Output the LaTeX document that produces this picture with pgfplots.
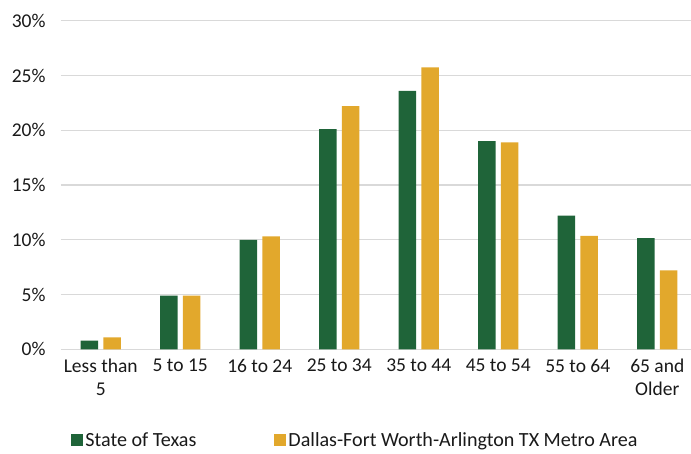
\documentclass[border=0pt]{standalone}
\usepackage{pgfplots}
\pgfplotsset{compat=1.18}
\usepackage{fontspec}
\setmainfont{Carlito}
\definecolor{tgreen}{HTML}{1F6439}
\definecolor{tgold}{HTML}{E2A82C}
\definecolor{gridgray}{HTML}{D9D9D9}
\begin{document}
\begin{tikzpicture}
\begin{axis}[
  name=ax,
  scale only axis,
  width=636pt, height=328.6pt,
  xmin=-0.5, xmax=7.5, ymin=0, ymax=30,
  clip=false,
  ybar, bar width=17.5pt,
  xtick={0,...,7},
  xticklabels={{Less than\\5},{5 to 15},{16 to 24},{25 to 34},{35 to 44},{45 to 54},{55 to 64},{65 and\\Older}},
  xticklabel style={align=center, yshift=-6pt, font=\fontsize{19.5}{23.5}\selectfont, text=black!90},
  ytick={0,5,...,30},
  yticklabels={0\%,5\%,10\%,15\%,20\%,25\%,30\%},
  yticklabel style={xshift=-12pt, font=\fontsize{19.5}{23}\selectfont, text=black!90},
  xmajorgrids=false,
  ymajorgrids=true, grid style={draw=gridgray, line width=1.3pt},
  axis line style={draw=none},
  major tick length=0pt,
  legend columns=2,
  legend style={at={(0.016,-0.277)}, anchor=west, draw=none, fill=none, inner sep=0pt,
    font=\fontsize{20.1}{23}\selectfont, text=black!90,
    /tikz/every odd column/.append style={column sep=0pt},
    /tikz/every even column/.append style={column sep=76pt}},
  legend image code/.code={\fill[#1] (0pt,-6pt) rectangle (12pt,6pt);},
]
\addplot[fill=tgreen, draw=none, bar shift=-11.3pt] coordinates {(0,0.8) (1,4.9) (2,10.0) (3,20.1) (4,23.6) (5,19.0) (6,12.2) (7,10.15)};
\addplot[fill=tgold, draw=none, bar shift=11.3pt] coordinates {(0,1.1) (1,4.9) (2,10.3) (3,22.2) (4,25.75) (5,18.9) (6,10.35) (7,7.2)};
\legend{State of Texas, Dallas-Fort Worth-Arlington TX Metro Area}
\end{axis}
\pgfresetboundingbox
\path ([xshift=-61pt,yshift=-103.7pt]ax.south west) rectangle ++(691pt,453pt);
\end{tikzpicture}
\end{document}
